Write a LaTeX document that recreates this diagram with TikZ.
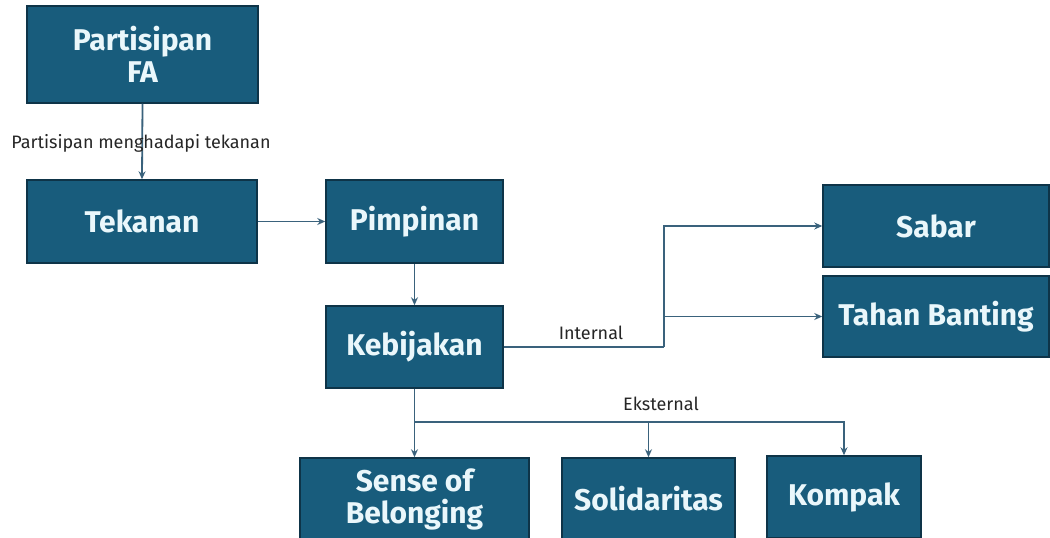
\documentclass[tikz,border=0pt]{standalone}
\usepackage{fontspec}
\setmainfont{Fira Sans}
\usetikzlibrary{arrows.meta}
\definecolor{boxfill}{RGB}{24,92,124}
\definecolor{boxedge}{RGB}{14,52,72}
\definecolor{boxtext}{RGB}{234,247,251}
\definecolor{linkcol}{RGB}{58,98,124}
\begin{document}
\begin{tikzpicture}[x=1pt,y=-1pt,
  stepbox/.style={draw=boxedge,line width=1.5pt,fill=boxfill,text=boxtext,
    font=\fontsize{30}{32}\selectfont\bfseries,align=center,inner sep=0pt},
  link/.style={draw=linkcol,line width=1.8pt,-{Stealth[length=8pt,width=7pt]}},
  plain/.style={draw=linkcol,line width=1.8pt},
  tag/.style={font=\fontsize{18}{20}\selectfont,text=black!85}]
\useasboundingbox[fill=white] (0,0) rectangle (1050,538);

\node[stepbox,minimum width=231,minimum height=97] (pfa) at (142.5,54.5) {Partisipan\\FA};
\node[stepbox,minimum width=230,minimum height=83] (tek) at (142,221.5) {Tekanan};
\node[stepbox,minimum width=177,minimum height=83] (pim) at (414.5,221.5) {Pimpinan};
\node[stepbox,minimum width=177,minimum height=82] (keb) at (414.5,347) {Kebijakan};
\node[stepbox,minimum width=226,minimum height=82] (sab) at (936,226) {Sabar};
\node[stepbox,minimum width=226,minimum height=81] (tah) at (936,316.5) {Tahan Banting};
\node[stepbox,minimum width=229,minimum height=82] (sob) at (414.5,499) {Sense of\\Belonging};
\node[stepbox,minimum width=173,minimum height=82] (sol) at (648.5,499) {Solidaritas};
\node[stepbox,minimum width=154,minimum height=82] (kom) at (844,497) {Kompak};

% main chain
\draw[link] (pfa.south) -- (tek.north);
\node[tag] (lblp) at (141,143) {Partisipan menghadapi tekanan};
\draw[link] (tek.east) -- (pim.west);
\draw[link] (pim.south) -- (keb.north);

% internal branch
\coordinate (jin) at (664,347);
\draw[plain] (keb.east) -- (jin);
\draw[link] (jin) |- (sab.west);
\draw[link] (jin) |- (tah.west);
\node[tag] (lbli) at (591,333) {Internal};

% external branch
\coordinate (jex) at (414.5,422);
\draw[plain] (keb.south) -- (jex);
\draw[link] (jex) -- (sob.north);
\draw[link] (jex) -| (kom.north);
\draw[link] (sol.north |- jex) -- (sol.north);
\node[tag] (lble) at (661,404) {Eksternal};
\end{tikzpicture}
\end{document}
